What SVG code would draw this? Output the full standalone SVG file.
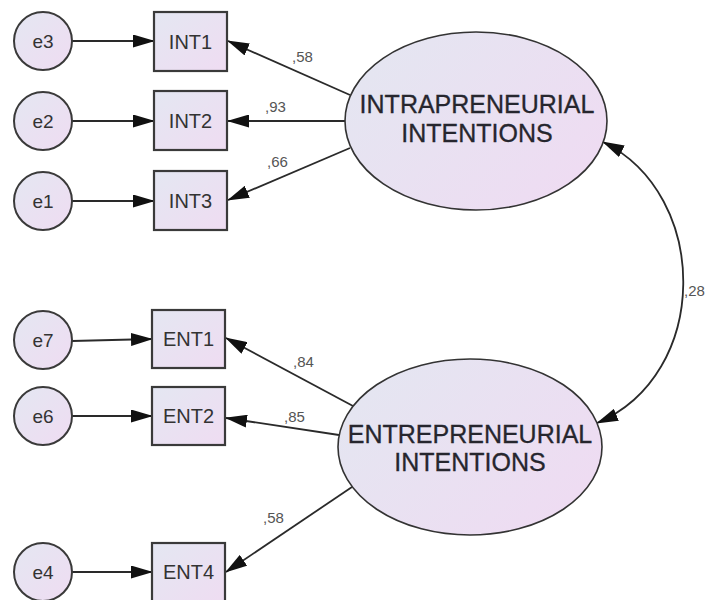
<svg xmlns="http://www.w3.org/2000/svg" width="706" height="600" viewBox="0 0 706 600">
<defs>
<linearGradient id="fillG" x1="0" y1="0" x2="1" y2="1">
<stop offset="0" stop-color="#e4e7f2"/>
<stop offset="1" stop-color="#efdcf2"/>
</linearGradient>
<linearGradient id="fillE" x1="0" y1="0" x2="1" y2="0.6">
<stop offset="0" stop-color="#e3e7f1"/>
<stop offset="1" stop-color="#eedcf2"/>
</linearGradient>
<marker id="arr" markerUnits="userSpaceOnUse" markerWidth="22" markerHeight="13" refX="21" refY="6.5" orient="auto-start-reverse" viewBox="0 0 22 13">
<path d="M0,0 L22,6.5 L0,13 Z" fill="#111"/>
</marker>
<style>
.err{fill:url(#fillG);stroke:#3a3a3a;stroke-width:2}
.box{fill:url(#fillG);stroke:#3a3a3a;stroke-width:2.2}
.lat{fill:url(#fillE);stroke:#333;stroke-width:1.6}
.ct{stroke:#2a2a2a;stroke-width:1.8;fill:none;marker-end:url(#arr)}
.t{font-family:"Liberation Sans",Arial,sans-serif;fill:#333;text-anchor:middle}
.et{font-size:19px}
.bt{font-size:20px}
.lt{font-size:25px;fill:#26262e;stroke:#26262e;stroke-width:0.3}
.num{font-family:"Liberation Sans",Arial,sans-serif;font-size:15px;fill:#555}
</style>
</defs>
<g id="connectors">
<line class="ct" x1="72" y1="41" x2="154" y2="41"/>
<line class="ct" x1="72" y1="121" x2="154" y2="121"/>
<line class="ct" x1="72" y1="201" x2="154" y2="201"/>
<line class="ct" x1="72" y1="341" x2="152" y2="339"/>
<line class="ct" x1="72" y1="416" x2="152" y2="416"/>
<line class="ct" x1="72" y1="572" x2="152" y2="572"/>
<line class="ct" x1="350" y1="95" x2="228" y2="41"/>
<line class="ct" x1="345" y1="121" x2="228" y2="121"/>
<line class="ct" x1="350" y1="148" x2="228" y2="200"/>
<line class="ct" x1="353" y1="406" x2="226" y2="338"/>
<line class="ct" x1="339" y1="435" x2="226" y2="418"/>
<line class="ct" x1="352" y1="487" x2="226" y2="572"/>
<path class="ct" d="M603,142 C711,195 711,375 597,423" style="marker-start:url(#arr)"/>
<text class="num" x="292" y="62">,58</text>
<text class="num" x="265" y="112">,93</text>
<text class="num" x="267" y="167">,66</text>
<text class="num" x="293" y="367">,84</text>
<text class="num" x="284" y="422">,85</text>
<text class="num" x="263" y="523">,58</text>
<text class="num" x="684" y="296">,28</text>
</g>
<g id="e3"><circle class="err" cx="43" cy="41" r="29"/><text class="t et" x="43" y="48">e3</text></g>
<g id="e2"><circle class="err" cx="43" cy="121" r="29"/><text class="t et" x="43" y="128">e2</text></g>
<g id="e1"><circle class="err" cx="43" cy="201" r="29"/><text class="t et" x="43" y="208">e1</text></g>
<g id="e7"><circle class="err" cx="43" cy="340" r="29"/><text class="t et" x="43" y="347">e7</text></g>
<g id="e6"><circle class="err" cx="43" cy="416" r="29"/><text class="t et" x="43" y="423">e6</text></g>
<g id="e4"><circle class="err" cx="43" cy="572" r="29"/><text class="t et" x="43" y="579">e4</text></g>
<g id="INT1"><rect class="box" x="154" y="12" width="73" height="59"/><text class="t bt" x="190.5" y="49">INT1</text></g>
<g id="INT2"><rect class="box" x="154" y="91" width="73" height="59"/><text class="t bt" x="190.5" y="128">INT2</text></g>
<g id="INT3"><rect class="box" x="154" y="171" width="73" height="59"/><text class="t bt" x="190.5" y="208">INT3</text></g>
<g id="ENT1"><rect class="box" x="152" y="310" width="73" height="58"/><text class="t bt" x="188.5" y="346">ENT1</text></g>
<g id="ENT2"><rect class="box" x="152" y="387" width="73" height="58"/><text class="t bt" x="188.5" y="423">ENT2</text></g>
<g id="ENT4"><rect class="box" x="152" y="543" width="73" height="62"/><text class="t bt" x="188.5" y="579">ENT4</text></g>
<g id="INTRA"><ellipse class="lat" cx="476" cy="121" rx="131" ry="89"/>
<text class="t lt" x="477" y="113">INTRAPRENEURIAL</text>
<text class="t lt" x="477" y="142">INTENTIONS</text></g>
<g id="ENTRE"><ellipse class="lat" cx="470" cy="447" rx="132" ry="88"/>
<text class="t lt" x="470" y="443">ENTREPRENEURIAL</text>
<text class="t lt" x="470" y="471">INTENTIONS</text></g>
</svg>
